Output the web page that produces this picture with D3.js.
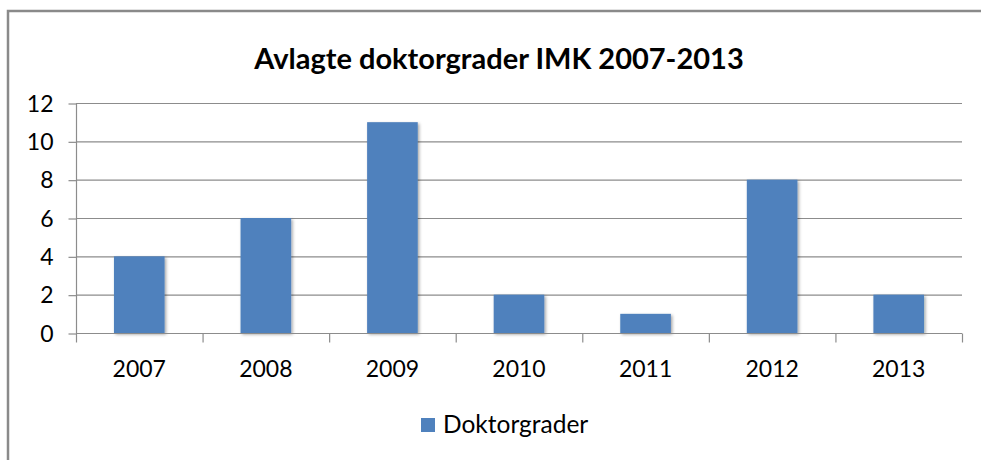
<!DOCTYPE html>
<html><head><meta charset="utf-8">
<script src="https://cdn.jsdelivr.net/npm/d3@7"></script>
<style>
html,body{margin:0;padding:0;background:#fff;}
svg{display:block;}
text{font-family:Lato,"Open Sans",sans-serif;fill:#000;}
</style></head>
<body>
<script>
const title = "Avlagte doktorgrader IMK 2007-2013";
const categories = ["2007","2008","2009","2010","2011","2012","2013"];
const values = [4, 6, 11, 2, 1, 8, 2];
const yTicks = [0, 2, 4, 6, 8, 10, 12];
const seriesName = "Doktorgrader";

const W = 981, H = 460;
const svg = d3.select("body").append("svg").attr("width", W).attr("height", H);

const defs = svg.append("defs");
const f = defs.append("filter").attr("id","sh").attr("x","-20%").attr("y","-20%").attr("width","140%").attr("height","140%");
f.append("feDropShadow").attr("dx",1.5).attr("dy",1.5).attr("stdDeviation",1.5).attr("flood-color","#000").attr("flood-opacity",0.35);

// chart border (top + left visible)
svg.append("path").attr("d","M8,470 L8,11 L985,11").attr("fill","none").attr("stroke","#8a8a8a").attr("stroke-width",2.5);

const m = {left:76, right:962, top:103, bottom:333};
const x = d3.scaleBand().domain(categories).range([m.left, m.right]).paddingInner(0.6).paddingOuter(0.3);
const xb = d3.scaleBand().domain(categories).range([m.left, m.right]);
const y = d3.scaleLinear().domain([0, 12]).range([m.bottom, m.top]);

// gridlines
svg.append("g").selectAll("line").data(yTicks.filter(d=>d>0)).join("line")
  .attr("x1", m.left).attr("x2", m.right).attr("y1", d=>y(d)+0.5).attr("y2", d=>y(d)+0.5)
  .attr("stroke","#8c8c8c").attr("stroke-width",1.2);

// y axis
const ya = svg.append("g").attr("transform",`translate(${m.left+0.5},0)`)
  .call(d3.axisLeft(y).tickValues(yTicks).tickSize(8).tickPadding(15).tickFormat(d3.format("d")));
ya.select(".domain").attr("stroke","#8c8c8c").attr("stroke-width",1.2).attr("d",`M0,${m.top}V${m.bottom}`);
ya.selectAll(".tick line").attr("stroke","#8c8c8c").attr("stroke-width",1.2).attr("transform","translate(0,0.5)");
ya.selectAll(".tick text").attr("font-size",23).attr("font-family","Lato").attr("fill","#000").attr("dy","0.35em");

// bars
svg.append("g").selectAll("rect").data(values).join("rect")
  .attr("x",(d,i)=>x(categories[i])).attr("width",x.bandwidth())
  .attr("y",d=>y(d)).attr("height",d=>y(0)-y(d))
  .attr("fill","#4f81bd").attr("filter","url(#sh)");

// x axis
const xa = svg.append("g").attr("transform",`translate(0,${m.bottom+0.5})`);
xa.append("line").attr("x1",m.left).attr("x2",m.right).attr("stroke","#8c8c8c").attr("stroke-width",1.2);
const bounds = categories.map(c=>xb(c)).concat([m.right]);
xa.selectAll("line.t").data(bounds).join("line").attr("class","t")
  .attr("x1",d=>d+0.5).attr("x2",d=>d+0.5).attr("y1",0).attr("y2",9)
  .attr("stroke","#8c8c8c").attr("stroke-width",1.2);
xa.selectAll("text").data(categories).join("text")
  .attr("x",d=>xb(d)+xb.bandwidth()/2).attr("y",43).attr("text-anchor","middle")
  .attr("font-size",23).text(d=>d);

// title
svg.append("text").attr("x",499).attr("y",69).attr("text-anchor","middle")
  .attr("font-size",29).attr("font-weight","bold").text(title);

// legend
const lg = svg.append("g").attr("transform","translate(421,418)");
lg.append("rect").attr("width",14).attr("height",14).attr("fill","#4f81bd");
lg.append("text").attr("x",22).attr("y",15).attr("font-size",24.5).text(seriesName);
</script>
</body></html>
